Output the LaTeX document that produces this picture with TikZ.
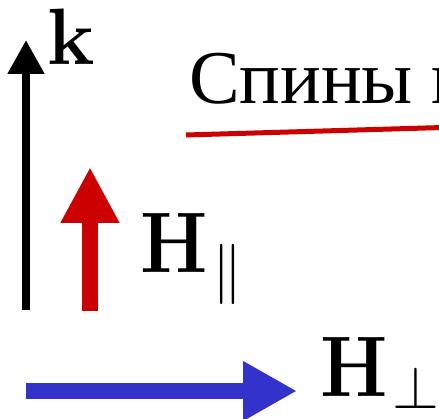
\RequirePackage{fix-cm}
\documentclass[tikz,border=0pt]{standalone}
\usepackage[no-math]{fontspec}
\newfontfamily\rusfont{Liberation Serif}
\usetikzlibrary{arrows.meta}
\newcommand{\bH}{\scalebox{0.89}[1]{$\mathbf{H}$}}

\begin{document}
\begin{tikzpicture}[
    x=1pt, y=-1pt,
    vec/.style={line width=#1},
    label/.style={inner sep=0pt, anchor=base west},
    kcol/.style={draw=black},
    parcol/.style={draw=red!80!black},
    perpcol/.style={draw={rgb,255:red,51;green,51;blue,204}}
]
\useasboundingbox (0,0) rectangle (439,419);
\clip (0,0) rectangle (439,419);

% Coordinates
\coordinate (k0) at (26,310);
\coordinate (k1) at (26,40);
\coordinate (par0) at (90,311);
\coordinate (par1) at (90,167);
\coordinate (perp0) at (26,391);
\coordinate (perp1) at (297,391);
\coordinate (ul0) at (186,135);
\coordinate (ul1) at (460,127);

% Labels
\node[label] (k) at (47,65) {\fontsize{80}{90}\selectfont$\mathbf{k}$};
\node[label] (Hpar) at (140,273) {\fontsize{86}{96}\selectfont$\bH_{\mkern1.5mu\lower4pt\hbox{$\scriptstyle\parallel$}}$};
\node[label] (Hperp) at (320,396) {\fontsize{86}{96}\selectfont$\bH_{\mkern1.5mu\perp}$};
\node[label] (title) at (189,104) {\rusfont\fontsize{76}{90}\selectfont Спины в};

% Arrows
\draw[kcol, vec=8pt, -{Triangle[width=35pt, length=34pt]}] (k0) -- (k1);
\draw[parcol, vec=16pt, -{Triangle[width=55pt, length=56pt]}] (par0) -- (par1);
\draw[perpcol, vec=16pt, -{Triangle[width=56pt, length=54pt]}] (perp0) -- (perp1);
\draw[parcol, vec=5pt] (ul0) -- (ul1);

\end{tikzpicture}
\end{document}
